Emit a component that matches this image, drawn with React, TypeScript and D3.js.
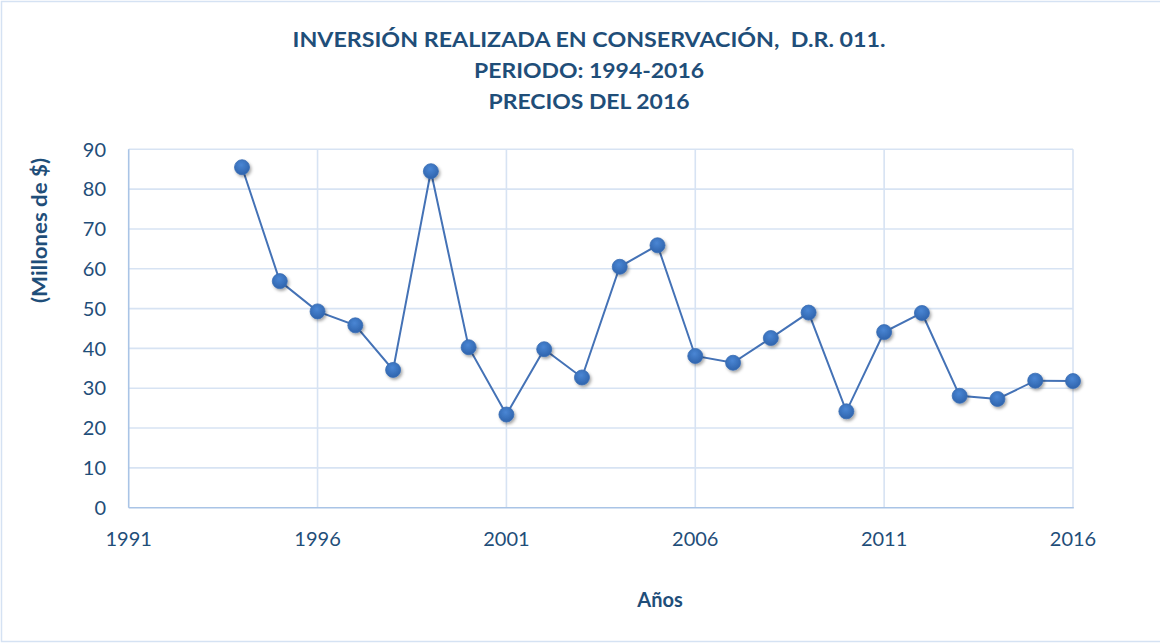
import { useEffect, useRef } from 'react'
import * as d3 from 'd3'

const years = [1994, 1995, 1996, 1997, 1998, 1999, 2000, 2001, 2002, 2003, 2004, 2005, 2006, 2007, 2008, 2009, 2010, 2011, 2012, 2013, 2014, 2015, 2016]
const inversion = [85.5, 56.9, 49.3, 45.8, 34.6, 84.5, 40.3, 23.4, 39.8, 32.7, 60.5, 65.9, 38.1, 36.4, 42.6, 49.0, 24.2, 44.1, 48.9, 28.1, 27.3, 31.9, 31.8]
const xTicks = [1991, 1996, 2001, 2006, 2011, 2016]
const yTicks = [0, 10, 20, 30, 40, 50, 60, 70, 80, 90]
const titleLines = ['INVERSIÓN REALIZADA EN CONSERVACIÓN,  D.R. 011.', 'PERIODO: 1994-2016', 'PRECIOS DEL 2016']

const W = 1160
const H = 643
const TEXT = '#1f4e79'
const FONT = 'Lato, "Open Sans", sans-serif'

export default function App() {
  const svgRef = useRef<SVGSVGElement>(null)

  useEffect(() => {
    if (!svgRef.current) return
    const svg = d3.select(svgRef.current)
    svg.selectAll('*').remove()

    const m = { top: 149.3, left: 128.7, right: 1073, bottom: 507.7 }
    const x = d3.scaleLinear().domain([1991, 2016]).range([m.left, m.right])
    const y = d3.scaleLinear().domain([0, 90]).range([m.bottom, m.top])

    // defs: marker gradient + shadow
    const defs = svg.append('defs')
    const grad = defs.append('radialGradient').attr('id', 'dotGrad')
      .attr('cx', '45%').attr('cy', '35%').attr('r', '65%')
    grad.append('stop').attr('offset', '0%').attr('stop-color', '#4a86d4')
    grad.append('stop').attr('offset', '100%').attr('stop-color', '#2f64ad')
    const shadow = defs.append('filter').attr('id', 'dotShadow')
      .attr('x', '-50%').attr('y', '-50%').attr('width', '200%').attr('height', '200%')
    shadow.append('feDropShadow').attr('dx', 1.5).attr('dy', 2).attr('stdDeviation', 1.6)
      .attr('flood-color', '#000').attr('flood-opacity', 0.35)

    // outer frame
    svg.append('rect').attr('x', 1.5).attr('y', 1.5).attr('width', W + 10).attr('height', H - 3)
      .attr('fill', '#fff').attr('stroke', '#d5e2f3').attr('stroke-width', 1.5)

    // title
    const title = svg.append('text').attr('text-anchor', 'middle')
      .attr('fill', TEXT).attr('font-family', FONT).attr('font-weight', 'bold').attr('font-size', 21)
      .style('white-space', 'pre')
    const titleLens = [593, 230, 201]
    titleLines.forEach((t, i) => {
      title.append('tspan').attr('x', 589).attr('y', 46.7 + i * 31.3)
        .attr('textLength', titleLens[i]).attr('lengthAdjust', 'spacingAndGlyphs')
        .style('white-space', 'pre')
        .text(t)
    })

    // grid
    const grid = svg.append('g')
    yTicks.filter(t => t > 0).forEach(t => {
      grid.append('line').attr('x1', m.left).attr('x2', m.right)
        .attr('y1', y(t)).attr('y2', y(t))
        .attr('stroke', '#d7e3f3').attr('stroke-width', 1.6)
    })
    xTicks.filter(t => t > 1991).forEach(t => {
      grid.append('line').attr('x1', x(t)).attr('x2', x(t))
        .attr('y1', m.top).attr('y2', m.bottom)
        .attr('stroke', '#d7e3f3').attr('stroke-width', 1.6)
    })

    // axes lines
    svg.append('line').attr('x1', m.left).attr('x2', m.left).attr('y1', m.top).attr('y2', m.bottom)
      .attr('stroke', '#a9c4e6').attr('stroke-width', 1.6)
    svg.append('line').attr('x1', m.left).attr('x2', m.right + 0.8).attr('y1', m.bottom).attr('y2', m.bottom)
      .attr('stroke', '#a9c4e6').attr('stroke-width', 1.6)

    // tick labels
    yTicks.forEach(t => {
      svg.append('text').attr('x', 106).attr('y', y(t)).attr('dy', '0.36em')
        .attr('text-anchor', 'end').attr('fill', TEXT)
        .attr('font-family', FONT).attr('font-size', 20).text(t)
    })
    xTicks.forEach(t => {
      svg.append('text').attr('x', x(t)).attr('y', 546)
        .attr('text-anchor', 'middle').attr('fill', TEXT)
        .attr('font-family', FONT).attr('font-size', 20).text(t)
    })

    // axis titles
    svg.append('text').attr('x', 660).attr('y', 607).attr('text-anchor', 'middle')
      .attr('fill', TEXT).attr('font-family', FONT).attr('font-weight', 'bold').attr('font-size', 20)
      .text('Años')
    svg.append('text').attr('transform', 'translate(47,230.5) rotate(-90)').attr('text-anchor', 'middle')
      .attr('fill', TEXT).attr('font-family', FONT).attr('font-weight', 'bold').attr('font-size', 20)
      .attr('textLength', 145).attr('lengthAdjust', 'spacingAndGlyphs')
      .text('(Millones de $)')

    // series
    const pts = years.map((yr, i) => [yr, inversion[i]] as [number, number])
    const line = d3.line<[number, number]>().x(d => x(d[0])).y(d => y(d[1]))
    svg.append('path').datum(pts).attr('d', line)
      .attr('fill', 'none').attr('stroke', '#4472b6').attr('stroke-width', 2)

    svg.append('g').selectAll('circle').data(pts).join('circle')
      .attr('cx', d => x(d[0])).attr('cy', d => y(d[1])).attr('r', 7.5)
      .attr('fill', 'url(#dotGrad)').attr('stroke', '#3a6db4').attr('stroke-width', 0.8)
      .attr('filter', 'url(#dotShadow)')
  }, [])

  return (
    <div style={{ position: 'absolute', left: 0, top: 0 }}>
      <svg ref={svgRef} width={W} height={H} style={{ display: 'block' }} />
    </div>
  )
}
